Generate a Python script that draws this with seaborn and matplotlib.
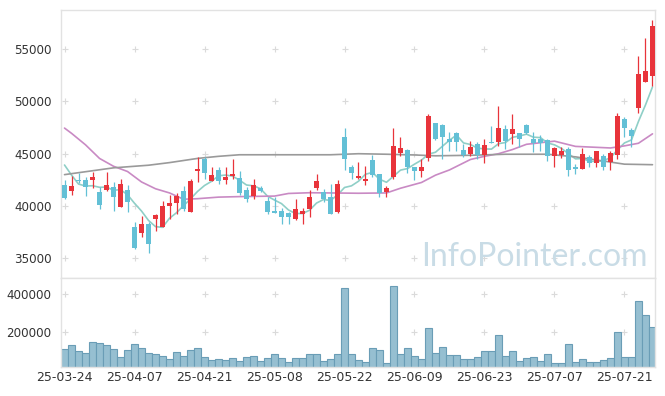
"""
Graphique boursier : chandeliers, moyennes mobiles et volumes (25-03-24 -> 25-07-25).
"""
import matplotlib
matplotlib.use("Agg")
import matplotlib.pyplot as plt
from matplotlib.ticker import FuncFormatter
import seaborn as sns
import numpy as np
import pandas as pd

# Séances (OHLC, en won)
opens = [42000, 41400, 42500, 42500, 42500, 41350, 41500, 41800, 39950, 41550,
         38000, 37450, 38300, 38800, 38000, 40000, 40300, 41450, 39450, 43350,
         44500, 42400, 43450, 42500, 42850, 42700, 41550, 40950, 41750, 40500,
         39500, 39500, 39350, 38750, 39250, 39750, 41750, 41300, 40850, 39450,
         46600, 43750, 42700, 42400, 44400, 43050, 41350, 42800, 45050, 45350,
         43700, 43350, 44550, 47900, 47750, 46400, 46950, 45400, 45000, 45900,
         44850, 46150, 46100, 47350, 46850, 46950, 47750, 46450, 46400, 46300,
         44800, 44850, 45450, 43750, 43550, 44700, 44150, 44800, 44200, 44900,
         48300, 47250, 49350, 51900, 52450]
highs = [42500, 42850, 43200, 42800, 43250, 41800, 43250, 42250, 42550, 42000,
         38450, 39050, 38500, 39250, 40500, 41050, 41250, 41900, 42550, 44650,
         44650, 43750, 43750, 43750, 44450, 43300, 41800, 42550, 41900, 40900,
         40900, 39800, 39450, 40650, 39850, 41550, 43050, 41600, 42100, 42500,
         47450, 43900, 44200, 43800, 44900, 43100, 41900, 47450, 46600, 45450,
         43750, 44450, 48800, 47950, 47850, 47100, 47050, 45950, 46250, 46150,
         46400, 47650, 49550, 47750, 48750, 46950, 47800, 47100, 46800, 46450,
         45650, 45650, 45650, 44000, 45500, 44900, 45250, 44950, 45300, 48900,
         48500, 47450, 54350, 56050, 57800]
lows = [40700, 41100, 42200, 40950, 41700, 39700, 41450, 39500, 39900, 39400,
        35900, 37000, 35550, 37600, 37950, 38750, 39200, 39500, 39400, 42250,
        42550, 42400, 42100, 42100, 42600, 41050, 40400, 40650, 41300, 39200,
        39300, 38250, 38250, 38700, 38300, 38950, 41550, 40350, 39250, 39300,
        43400, 42600, 42600, 42000, 42800, 40850, 40900, 42550, 44800, 43150,
        42500, 42800, 44300, 46300, 44450, 45300, 45300, 44700, 44800, 44500,
        44100, 46050, 45750, 45450, 45900, 45650, 46850, 45200, 45300, 44350,
        43700, 44550, 42850, 43050, 43500, 43750, 43750, 43400, 43400, 44450,
        46600, 45600, 48850, 51850, 51450]
closes = [40800, 41900, 42400, 41850, 42750, 40050, 42000, 40900, 42100, 40350,
          35950, 38300, 36400, 39150, 40000, 40300, 40950, 39750, 42400, 43550,
          43150, 42950, 42400, 42750, 43050, 41200, 40650, 42000, 41400, 39450,
          39350, 38950, 38950, 39700, 39500, 40850, 42400, 40650, 39250, 42100,
          44450, 43200, 42850, 42600, 42950, 41200, 41750, 45750, 45500, 43700,
          43300, 43700, 48600, 46400, 46600, 46150, 46150, 44850, 45650, 44850,
          45800, 46050, 47450, 46200, 47350, 46400, 46950, 46000, 46000, 44800,
          45500, 45250, 43450, 43550, 44950, 44150, 45250, 43750, 45050, 48600,
          47500, 46700, 52600, 52900, 57200]
volumes = [112000, 133000, 101500, 91000, 147000, 142000, 133000, 112000, 70000, 105000,
           138500, 117500, 91000, 86000, 75000, 59500, 96000, 75000, 105000, 117500,
           70000, 54000, 59500, 54000, 65000, 49000, 70000, 75000, 49000, 65000,
           86000, 65000, 44000, 65000, 65000, 86000, 86000, 49000, 59500, 84000,
           431500, 84000, 52500, 42000, 115500, 105000, 37000, 442000, 84000, 115500,
           73500, 58000, 221000, 89500, 121000, 79000, 79000, 58000, 58000, 68500,
           100000, 100000, 184000, 73500, 100000, 47000, 63000, 68500, 47000, 84000,
           37000, 37000, 137000, 42000, 58000, 42000, 42000, 52500, 63000, 200000,
           68500, 68500, 363000, 289000, 226000]
# 4 clôtures avant la fenêtre, pour la moyenne 5 jours
pre_closes = [46700, 46700, 42800, 42600]

# Moyennes longues (index de séance, valeur)
ma20_idx = [0, 1, 2, 3, 4, 5, 7, 9, 11, 13, 15, 17, 19, 22, 25, 30, 32, 35, 38,
            42, 46, 48, 51, 53, 55, 58, 60, 62, 64, 66, 70, 73, 78, 80, 82, 84]
ma20_val = [47450, 46950, 46400, 45850, 45200, 44550, 43800, 43300, 42300, 41650,
            41250, 40650, 40700, 40850, 40900, 40950, 41200, 41270, 41250, 41220,
            41250, 41700, 42250, 42950, 43450, 44450, 44750, 45000, 45400, 45900,
            46200, 45700, 45550, 45750, 46000, 46900]
ma60_idx = [0, 7, 12, 15, 19, 22, 25, 30, 38, 42, 46, 50, 53, 58, 63, 69, 73, 76,
            78, 80, 84]
ma60_val = [43000, 43650, 43900, 44150, 44550, 44750, 44900, 44900, 44900, 45000,
            44950, 44880, 44800, 44850, 44950, 44950, 44700, 44400, 44200, 44000,
            43950]

tick_pos = [0, 10, 20, 30, 40, 50, 60, 70, 80]
tick_labels = ["25-03-24", "25-04-07", "25-04-21", "25-05-08", "25-05-22",
               "25-06-09", "25-06-23", "25-07-07", "25-07-21"]
price_ticks = [35000, 40000, 45000, 50000, 55000]
vol_ticks = [200000, 400000]

UP, DOWN = "#E8343B", "#63C0D6"
MA5_C, MA20_C, MA60_C = "#8FCFC7", "#C98AC4", "#9A9A9A"
FRAME = "#E2E2E2"
TXT = "#333333"

sns.set_theme(style="white")
plt.rcParams["font.family"] = ["DejaVu Sans"]

n = len(closes)
df = pd.DataFrame({"i": np.arange(n), "open": opens, "high": highs,
                   "low": lows, "close": closes, "volume": volumes})
df["up"] = df["close"] >= df["open"]
df["ma5"] = pd.Series(pre_closes + closes).rolling(5).mean().iloc[4:].to_numpy()

fig = plt.figure(figsize=(6.65, 3.96), dpi=100)
ax = fig.add_axes([61.3 / 665, 1 - 278.3 / 396, 593.7 / 665, 268 / 396])
axv = fig.add_axes([61.3 / 665, 1 - 366.7 / 396, 593.7 / 665, 88.4 / 396])

# Moyennes mobiles
sns.lineplot(x=df["i"], y=df["ma5"], ax=ax, color=MA5_C, lw=1.2, zorder=2)
sns.lineplot(x=ma20_idx, y=ma20_val, ax=ax, color=MA20_C, lw=1.2, zorder=2)
sns.lineplot(x=ma60_idx, y=ma60_val, ax=ax, color=MA60_C, lw=1.2, zorder=2)

# Chandeliers
colors = np.where(df["up"], UP, DOWN)
ax.vlines(df["i"], df["low"], df["high"], colors=colors, lw=0.9, zorder=3)
body_lo = np.minimum(df["open"], df["close"])
body_h = np.maximum((df["close"] - df["open"]).abs(), 90)
ax.bar(df["i"], body_h, bottom=body_lo, width=0.72, color=colors,
       linewidth=0, zorder=3)

ax.text(0.988, 0.045, "InfoPointer.com", transform=ax.transAxes,
        ha="right", va="baseline", fontsize=23, color="#C9DCE6",
        family=["Lato", "DejaVu Sans"], zorder=1)

# Volumes
sns.barplot(x=df["i"], y=df["volume"], ax=axv, native_scale=True, width=1.0,
            color="#96BFD1", edgecolor="#6A9DB6", linewidth=0.8, saturation=1)

# Mise en forme
xlim = (-0.46, 84.36)
for a in (ax, axv):
    a.set_xlim(*xlim)
    a.set_xlabel("")
    a.set_ylabel("")
    a.set_xticks(tick_pos)
    a.tick_params(length=0, colors=TXT, labelsize=8.6)
    for s in a.spines.values():
        s.set_color(FRAME)
        s.set_linewidth(1)

ax.set_ylim(33090, 58710)
ax.set_yticks(price_ticks)
ax.set_xticklabels([])
ax.tick_params(axis="y", pad=7)

axv.set_ylim(19000, 484000)
axv.set_yticks(vol_ticks)
axv.yaxis.set_major_formatter(FuncFormatter(lambda v, _: f"{int(v)}"))
axv.set_xticklabels(tick_labels)
axv.tick_params(axis="y", pad=7)
axv.tick_params(axis="x", pad=3, labelsize=9)

# Repères "+" aux intersections de la grille
for a, yt in ((ax, price_ticks), (axv, vol_ticks)):
    gx, gy = np.meshgrid(tick_pos, yt)
    a.scatter(gx.ravel(), gy.ravel(), marker="+", s=22, color="#DADADA",
              linewidths=0.8, zorder=0)

fig.savefig("out.png", dpi=100, facecolor="white")
